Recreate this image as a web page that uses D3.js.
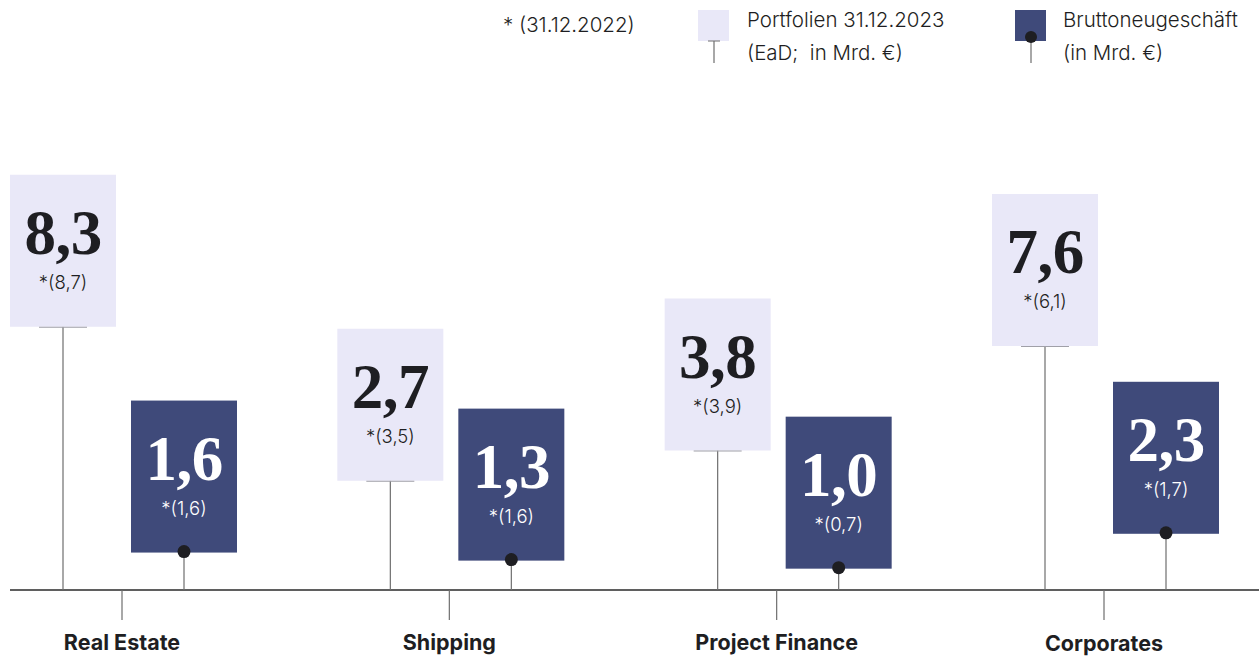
<!DOCTYPE html>
<html><head><meta charset="utf-8">
<script src="https://cdn.jsdelivr.net/npm/d3@7/dist/d3.min.js"></script>
<style>
html,body{margin:0;padding:0;background:#fff;}
svg{display:block;}
text{white-space:pre;}
</style></head>
<body>
<svg id="chart" width="1259" height="657"></svg>
<script>
const categories = ["Real Estate", "Shipping", "Project Finance", "Corporates"];
const portfolio2023 = [8.3, 2.7, 3.8, 7.6];
const portfolio2022 = [8.7, 3.5, 3.9, 6.1];
const brutto2023 = [1.6, 1.3, 1.0, 2.3];
const brutto2022 = [1.6, 1.6, 0.7, 1.7];

const fmt = v => v.toFixed(1).replace(".", ",");
const svg = d3.select("#chart");
const W = 1259, H = 657;
const baseY = 590;
const boxW = 106, boxH = 152;
const lav = "#e9e8f8", navy = "#3f4a7a", ink = "#1e1e22", stemC = "#6e6e6e";
const sans = "Inter, 'Noto Sans', sans-serif";
const serif = "'Liberation Serif', 'DejaVu Serif', serif";

const x = d3.scalePoint().domain(categories).range([122, 1104]);
const yP = d3.scaleLinear().domain([0, 10]).range([baseY - 35, baseY - 310]);
const yB = d3.scaleLinear().domain([0, 3]).range([baseY + 4.5, baseY - 76]);

// axis
svg.append("line").attr("x1", 10).attr("x2", W).attr("y1", baseY).attr("y2", baseY)
  .attr("stroke", "#2a2a2a").attr("stroke-width", 1.5);

const g = svg.selectAll("g.cat").data(categories).join("g").attr("class", "cat")
  .attr("transform", d => `translate(${x(d)},0)`);

g.append("line").attr("x1", 0).attr("x2", 0).attr("y1", baseY).attr("y2", baseY + 30)
  .attr("stroke", stemC).attr("stroke-width", 1.2);
g.append("text").attr("x", 0).attr("y", (d, i) => i === 3 ? 651 : 650)
  .attr("text-anchor", "middle").attr("font-family", sans).attr("font-weight", 700)
  .attr("font-size", 21.5).attr("fill", ink).text(d => d);

// portfolio
const pX = -59, bX = 62;
g.each(function(d, i) {
  const s = d3.select(this);
  const yb = yP(portfolio2023[i]);
  s.append("line").attr("x1", pX).attr("x2", pX).attr("y1", yb).attr("y2", baseY)
    .attr("stroke", stemC).attr("stroke-width", 1.2);
  s.append("rect").attr("x", pX - boxW / 2).attr("y", yb - boxH).attr("width", boxW).attr("height", boxH)
    .attr("fill", lav);
  s.append("line").attr("x1", pX - 24).attr("x2", pX + 24).attr("y1", yb + 0.5).attr("y2", yb + 0.5)
    .attr("stroke", "#a0a0a8").attr("stroke-width", 1);
  s.append("text").attr("x", pX).attr("y", yb - boxH + 79).attr("text-anchor", "middle")
    .attr("font-family", serif).attr("font-weight", 700).attr("font-size", 63).attr("fill", ink)
    .attr("letter-spacing", -0.5).text(fmt(portfolio2023[i]));
  s.append("text").attr("x", pX).attr("y", yb - boxH + 114).attr("text-anchor", "middle")
    .attr("font-family", sans).attr("font-size", 18.5).attr("font-weight", 300).attr("fill", ink)
    .text("*(" + fmt(portfolio2022[i]) + ")");

  const yd = yB(brutto2023[i]);
  s.append("rect").attr("x", bX - boxW / 2).attr("y", yd + 1 - boxH).attr("width", boxW).attr("height", boxH)
    .attr("fill", navy);
  s.append("line").attr("x1", bX).attr("x2", bX).attr("y1", yd).attr("y2", baseY)
    .attr("stroke", stemC).attr("stroke-width", 1.2);
  s.append("circle").attr("cx", bX).attr("cy", yd).attr("r", 6.5).attr("fill", ink);
  s.append("text").attr("x", bX).attr("y", yd + 1 - boxH + 79).attr("text-anchor", "middle")
    .attr("font-family", serif).attr("font-weight", 700).attr("font-size", 63).attr("fill", "#fff")
    .attr("letter-spacing", -0.5).text(fmt(brutto2023[i]));
  s.append("text").attr("x", bX).attr("y", yd + 1 - boxH + 114).attr("text-anchor", "middle")
    .attr("font-family", sans).attr("font-size", 18.5).attr("font-weight", 300).attr("fill", "#fff")
    .text("*(" + fmt(brutto2022[i]) + ")");
});

// legend
const lg = svg.append("g");
const lt = (xx, yy, t) => lg.append("text").attr("x", xx).attr("y", yy).attr("font-family", sans)
  .attr("font-size", 20.5).attr("font-weight", 300).attr("fill", ink).text(t);
lt(503, 32, "* (31.12.2022)");
lg.append("rect").attr("x", 698).attr("y", 10).attr("width", 31).attr("height", 31).attr("fill", lav);
lg.append("line").attr("x1", 708).attr("x2", 720).attr("y1", 41).attr("y2", 41).attr("stroke", stemC);
lg.append("line").attr("x1", 714).attr("x2", 714).attr("y1", 41).attr("y2", 63).attr("stroke", stemC).attr("stroke-width", 1.2);
lt(747, 27, "Portfolien 31.12.2023");
lt(747, 60, "(EaD;  in Mrd. €)");
lg.append("rect").attr("x", 1015).attr("y", 10).attr("width", 31).attr("height", 31).attr("fill", navy);
lg.append("line").attr("x1", 1031).attr("x2", 1031).attr("y1", 37).attr("y2", 63).attr("stroke", stemC).attr("stroke-width", 1.2);
lg.append("circle").attr("cx", 1031).attr("cy", 37).attr("r", 6).attr("fill", ink);
lt(1063, 27, "Bruttoneugeschäft");
lt(1063, 60, "(in Mrd. €)");
</script>
</body></html>
